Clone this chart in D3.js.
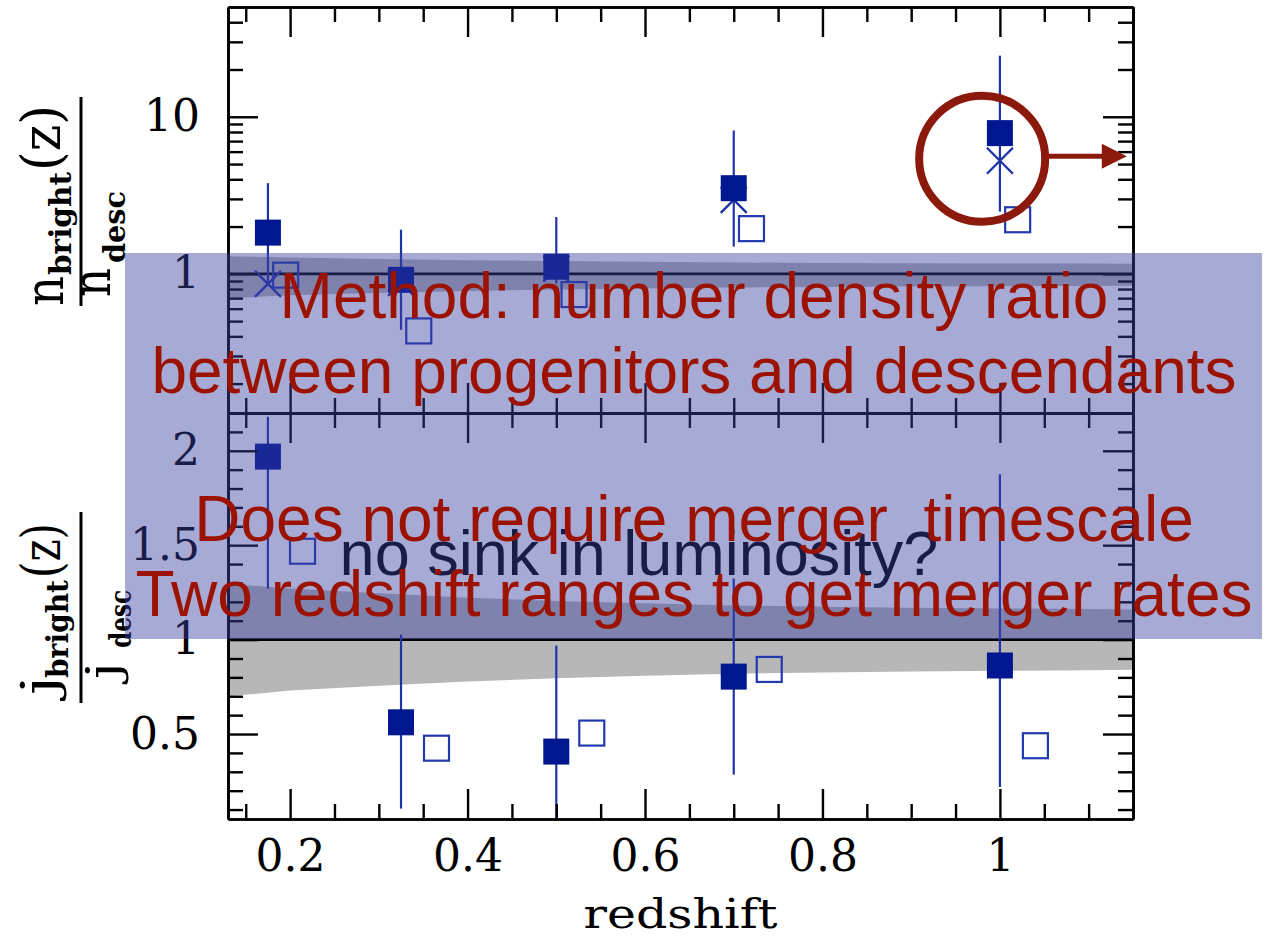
<!DOCTYPE html>
<html>
<head>
<meta charset="utf-8">
<script src="https://cdn.jsdelivr.net/npm/d3@7"></script>
<style>
  body { margin: 0; background: #fff; }
  svg text { white-space: pre; }
</style>
</head>
<body>
<svg id="chart" width="1270" height="938"></svg>
<script>
// ---- data -------------------------------------------------------------
// redshift bins (filled squares / crosses) and offset positions of open squares
const redshift = [0.175, 0.325, 0.5, 0.7, 1.0];
const redshiftOpenTop = [0.195, 0.345, 0.52, 0.72, 1.02];
const redshiftOpenBottom = [0.214, 0.365, 0.54, 0.74, 1.04];

// number density ratio n_bright(z) / n_desc
const nRatio      = [1.83, 0.916, 1.11, 3.51, 7.87];
const nRatioLow   = [0.87, 0.44, 0.87, 1.49, 2.49];
const nRatioHigh  = [3.78, 1.91, 2.30, 8.18, 24.5];
const nRatioCross = [0.864, 0.876, 1.076, 2.96, 5.25];
const nRatioOpen  = [0.981, 0.433, 0.738, 1.94, 2.21];

// luminosity density ratio j_bright(z) / j_desc
const jRatio     = [1.969, 0.562, 0.407, 0.804, 0.863];
const jRatioLow  = [1.27, 0.105, 0.05, 0.285, 0.22];
const jRatioHigh = [2.18, 1.026, 0.968, 1.324, 1.875];
const jRatioOpen = [1.468, 0.425, 0.505, 0.842, 0.438];

// passive-evolution band around unity
const bandZ     = [0.13, 0.2, 0.3, 0.4, 0.5, 0.6, 0.7, 0.8, 0.9, 1.0, 1.1, 1.15];
const bandUpper = [1.295, 1.27, 1.245, 1.222, 1.205, 1.192, 1.181, 1.174, 1.169, 1.165, 1.162, 1.16];
const bandLower = [0.70, 0.73, 0.755, 0.778, 0.795, 0.808, 0.819, 0.826, 0.831, 0.835, 0.838, 0.84];

// tick labels
const xTickValues = [0.2, 0.4, 0.6, 0.8, 1];
const xTickLabels = ["0.2", "0.4", "0.6", "0.8", "1"];
const topTickValues = [1, 10];
const topTickLabels = ["1", "10"];
const bottomTickValues = [0.5, 1, 1.5, 2];
const bottomTickLabels = ["0.5", "1", "1.5", "2"];

// slide annotations
const noteLines = [
  "Method: number density ratio",
  "between progenitors and descendants",
  "Does not require merger  timescale",
  "Two redshift ranges to get merger rates"
];
const noteBaselines = [318, 393, 541, 616];
const question = "no sink in luminosity?";
const highlight = { z: 0.98, value: 5.4, arrowTo: 1.143, arrowValue: 5.6 };

// ---- layout -----------------------------------------------------------
const frame = { left: 228, right: 1133, top: 7, mid: 413, bottom: 819 };
const svg = d3.select("#chart");

const x = d3.scaleLinear().domain([0.13, 1.15]).range([frame.left, frame.right]);
const yTop = d3.scaleLog().domain([0.13, 50]).range([frame.mid, frame.top]);
const yBot = d3.scaleLinear().domain([0.05, 2.2]).range([frame.bottom, frame.mid]);

const serif = "DejaVu Serif";
const sans = "Liberation Sans";
const markFill = "#00178f";
const errColor = "#1f33a8";
const openColor = "#2339ae";

// clip paths for both panels
const defs = svg.append("defs");
defs.append("clipPath").attr("id", "clipTop").append("rect")
  .attr("x", frame.left).attr("y", frame.top)
  .attr("width", frame.right - frame.left).attr("height", frame.mid - frame.top);
defs.append("clipPath").attr("id", "clipBot").append("rect")
  .attr("x", frame.left).attr("y", frame.mid)
  .attr("width", frame.right - frame.left).attr("height", frame.bottom - frame.mid);

const band = bandZ.map((z, i) => ({ z, hi: bandUpper[i], lo: bandLower[i] }));

function drawPanel(yScale, clipId, values, low, high, cross, openZ, openValues) {
  const g = svg.append("g").attr("clip-path", `url(#${clipId})`);
  g.append("path").datum(band)
    .attr("fill", "#b7b7b7")
    .attr("d", d3.area().x(d => x(d.z)).y0(d => yScale(d.lo)).y1(d => yScale(d.hi)));
  g.append("line")
    .attr("x1", frame.left).attr("x2", frame.right)
    .attr("y1", yScale(1)).attr("y2", yScale(1))
    .attr("stroke", "#000").attr("stroke-width", 2.6);

  g.selectAll("line.err").data(redshift).join("line").attr("class", "err")
    .attr("x1", d => x(d)).attr("x2", d => x(d))
    .attr("y1", (d, i) => yScale(low[i])).attr("y2", (d, i) => yScale(high[i]))
    .attr("stroke", errColor).attr("stroke-width", 2.2);

  if (cross) {
    g.selectAll("path.cross").data(redshift).join("path").attr("class", "cross")
      .attr("transform", (d, i) => `translate(${x(d)},${yScale(cross[i])})`)
      .attr("d", "M-13,-13L13,13M-13,13L13,-13")
      .attr("stroke", errColor).attr("stroke-width", 2.4).attr("fill", "none");
  }

  g.selectAll("rect.filled").data(redshift).join("rect").attr("class", "filled")
    .attr("x", d => x(d) - 13).attr("y", (d, i) => yScale(values[i]) - 13)
    .attr("width", 26).attr("height", 26).attr("fill", markFill);

  g.selectAll("rect.open").data(openZ).join("rect").attr("class", "open")
    .attr("x", d => x(d) - 12.5).attr("y", (d, i) => yScale(openValues[i]) - 12.5)
    .attr("width", 25).attr("height", 25)
    .attr("fill", "none").attr("stroke", openColor).attr("stroke-width", 2.2);
}

drawPanel(yTop, "clipTop", nRatio, nRatioLow, nRatioHigh, nRatioCross, redshiftOpenTop, nRatioOpen);
drawPanel(yBot, "clipBot", jRatio, jRatioLow, jRatioHigh, null, redshiftOpenBottom, jRatioOpen);

// ---- axes -------------------------------------------------------------
function styleAxis(sel) {
  sel.attr("font-family", serif).attr("font-size", 44).attr("fill", "#000");
  sel.selectAll("path.domain").attr("stroke", "#000").attr("stroke-width", 2.6);
  sel.selectAll(".tick line").attr("stroke", "#000").attr("stroke-width", 2.4);
  sel.selectAll(".tick text").attr("fill", "#000");
}

function addAxis(axis, tx, ty) {
  const g = svg.append("g").attr("transform", `translate(${tx},${ty})`).call(axis);
  styleAxis(g);
  return g;
}

const xMinor = d3.range(0.15, 1.151, 0.05).map(v => +v.toFixed(2)).filter(v => Math.abs(v * 5 - Math.round(v * 5)) > 1e-6);
const topMinor = [0.2, 0.3, 0.4, 0.5, 0.6, 0.7, 0.8, 0.9, 2, 3, 4, 5, 6, 7, 8, 9, 20, 30, 40];
const botMinor = d3.range(1, 23).map(v => v / 10).filter(v => Math.abs(v * 2 - Math.round(v * 2)) > 1e-6);

// x ticks on all four horizontal edges (pointing into each panel)
[[frame.top, d3.axisTop], [frame.mid, d3.axisBottom], [frame.mid, d3.axisTop], [frame.bottom, d3.axisBottom]]
  .forEach(([yy, fn]) => {
    addAxis(fn(x).tickValues(xMinor).tickSize(-15).tickSizeOuter(0).tickFormat(""), 0, yy);
    addAxis(fn(x).tickValues(xTickValues).tickSize(-30).tickSizeOuter(0).tickFormat(""), 0, yy);
  });

// bottom tick labels
addAxis(d3.axisBottom(x).tickValues(xTickValues).tickSize(0).tickSizeOuter(0).tickPadding(21)
  .tickFormat((d, i) => xTickLabels[i]), 0, frame.bottom).select("path.domain").remove();

// y ticks, top panel
addAxis(d3.axisLeft(yTop).tickValues(topMinor).tickSize(-15).tickSizeOuter(0).tickFormat(""), frame.left, 0);
addAxis(d3.axisLeft(yTop).tickValues(topTickValues).tickSize(-30).tickSizeOuter(0).tickPadding(28)
  .tickFormat((d, i) => topTickLabels[i]), frame.left, 0);
addAxis(d3.axisRight(yTop).tickValues(topMinor).tickSize(-15).tickSizeOuter(0).tickFormat(""), frame.right, 0);
addAxis(d3.axisRight(yTop).tickValues(topTickValues).tickSize(-30).tickSizeOuter(0).tickFormat(""), frame.right, 0);

// y ticks, bottom panel
addAxis(d3.axisLeft(yBot).tickValues(botMinor).tickSize(-15).tickSizeOuter(0).tickFormat(""), frame.left, 0);
addAxis(d3.axisLeft(yBot).tickValues(bottomTickValues).tickSize(-30).tickSizeOuter(0).tickPadding(28)
  .tickFormat((d, i) => bottomTickLabels[i]), frame.left, 0);
addAxis(d3.axisRight(yBot).tickValues(botMinor).tickSize(-15).tickSizeOuter(0).tickFormat(""), frame.right, 0);
addAxis(d3.axisRight(yBot).tickValues(bottomTickValues).tickSize(-30).tickSizeOuter(0).tickFormat(""), frame.right, 0);

// x-axis title
svg.append("text")
  .attr("x", (frame.left + frame.right) / 2).attr("y", 928)
  .attr("text-anchor", "middle")
  .attr("font-family", serif).attr("font-size", 41)
  .attr("textLength", 194).attr("lengthAdjust", "spacingAndGlyphs")
  .text("redshift");

// ---- rotated fraction labels -------------------------------------------
// each piece: [text, screen y where it starts, length along the text, baseline x, size, bold]
function fractionLabel(pieces, barX, barY0, barY1) {
  const g = svg.append("g").attr("transform", "rotate(-90)");
  pieces.forEach(([txt, yStart, len, xBase, size, bold]) => {
    g.append("text")
      .attr("x", -yStart).attr("y", xBase)
      .attr("font-family", serif).attr("font-size", size)
      .attr("font-weight", bold ? "bold" : "normal")
      .attr("textLength", len).attr("lengthAdjust", "spacingAndGlyphs")
      .text(txt);
  });
  svg.append("line")
    .attr("x1", barX).attr("x2", barX).attr("y1", barY0).attr("y2", barY1)
    .attr("stroke", "#000").attr("stroke-width", 3);
}

fractionLabel([
  ["n", 306, 30, 63, 54, false],
  ["bright", 275, 103, 71, 30, true],
  ["(z)", 171, 66, 60, 54, false],
  ["n", 297, 29, 110, 54, false],
  ["desc", 263, 72, 125, 29, true]
], 81, 97, 306);

fractionLabel([
  ["\u0237\u0307", 695, 19, 56, 46, false],
  ["bright", 678, 98, 68, 30, true],
  ["(z)", 578, 55, 60, 54, false],
  ["\u0237\u0307", 679, 17, 119, 44, false],
  ["desc", 648, 58, 131, 29, true]
], 81, 512, 703);

// ---- slide overlay and notes ---------------------------------------------
svg.append("text")
  .attr("x", 639).attr("y", 575).attr("text-anchor", "middle")
  .attr("font-family", sans).attr("font-size", 63).attr("fill", "#000")
  .text(question);

svg.append("rect")
  .attr("x", 125).attr("y", 253).attr("width", 1137).attr("height", 386)
  .attr("fill", "rgb(59,64,163)").attr("fill-opacity", 0.444);

svg.selectAll("text.note").data(noteLines).join("text").attr("class", "note")
  .attr("x", 694).attr("y", (d, i) => noteBaselines[i])
  .attr("text-anchor", "middle")
  .attr("font-family", sans).attr("font-size", 64).attr("fill", "#9c1200")
  .text(d => d);

// highlight circle and arrow on the highest-redshift bin
const cx = x(highlight.z), cy = yTop(highlight.value);
svg.append("circle").attr("cx", cx).attr("cy", cy).attr("r", 63)
  .attr("fill", "none").attr("stroke", "#8c1a0c").attr("stroke-width", 8);
const ay = yTop(highlight.arrowValue), tipX = x(highlight.arrowTo);
svg.append("line").attr("x1", cx + 66).attr("x2", tipX - 20).attr("y1", ay).attr("y2", ay)
  .attr("stroke", "#8c1a0c").attr("stroke-width", 5);
svg.append("path")
  .attr("d", `M${tipX},${ay}L${tipX - 25},${ay - 12.5}L${tipX - 25},${ay + 12.5}Z`)
  .attr("fill", "#8c1a0c");
</script>
</body>
</html>
